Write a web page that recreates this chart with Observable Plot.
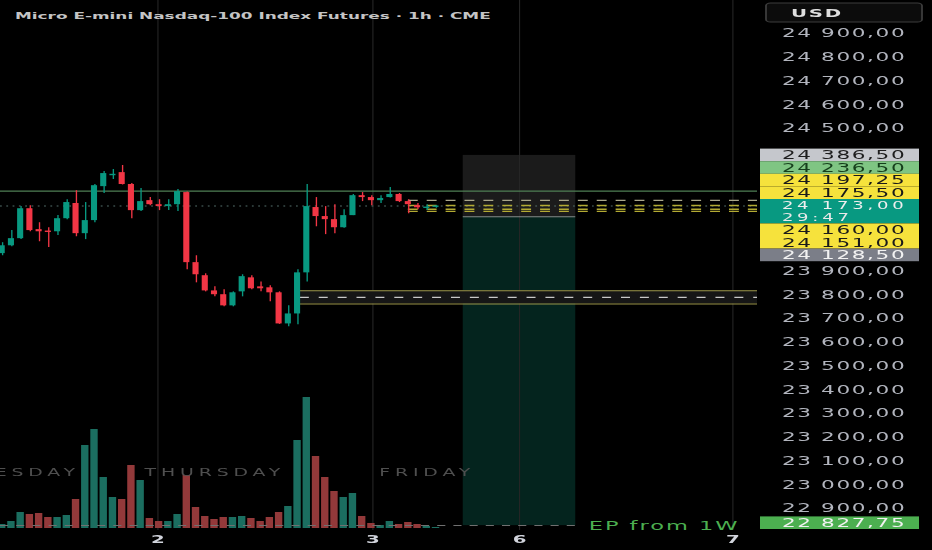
<!DOCTYPE html>
<html><head><meta charset="utf-8">
<script src="https://cdn.jsdelivr.net/npm/d3@7"></script>
<script src="https://cdn.jsdelivr.net/npm/@observablehq/plot@0.6"></script>
<style>
html,body{margin:0;padding:0;background:#000;overflow:hidden;}
#wrap{width:518px;height:550px;transform-origin:0 0;}
</style></head><body><div id="wrap"></div>
<script>
// ---------------- data ----------------
const title = "Micro E-mini Nasdaq-100 Index Futures · 1h · CME";
const currency = "USD";
const opens  = [23973,24006,24036,24162,24074,24068,24065,24120,24184,24057,24112,24255,24302,24314,24264,24154,24196,24179,24171,24179,24230,23935,23880,23816,23800,23753,23812,23871,23833,23829,23808,23677,23719,23892,24167,24129,24116,24082,24133,24217,24209,24196,24209,24222,24192,24175,24164,24168];
const highs  = [24019,24070,24171,24175,24103,24082,24133,24200,24238,24188,24264,24319,24327,24344,24268,24247,24209,24200,24200,24243,24232,23964,23888,23833,23821,23812,23884,23880,23854,23838,23812,23753,23905,24264,24209,24171,24179,24158,24222,24230,24217,24217,24251,24226,24200,24184,24179,24175];
const lows   = [23964,24002,24032,24065,24023,23999,24049,24116,24044,24032,24103,24226,24285,24262,24120,24150,24175,24154,24154,24150,23905,23850,23812,23791,23749,23749,23791,23821,23812,23770,23675,23665,23673,23854,24086,24053,24057,24080,24133,24192,24175,24184,24207,24188,24141,24158,24154,24164];
const closes = [24006,24036,24162,24070,24065,24062,24120,24188,24057,24112,24259,24310,24306,24264,24154,24192,24179,24171,24179,24234,23935,23884,23816,23800,23753,23808,23876,23825,23825,23808,23677,23719,23892,24171,24129,24116,24082,24133,24217,24209,24196,24205,24222,24192,24179,24166,24168,24173];
const volumes = [400,700,1600,1400,1500,1100,1100,1300,2900,8300,9900,5100,3100,2900,6300,4800,1000,700,700,1400,5300,2100,1200,900,1100,1100,1200,1000,700,1100,1600,2200,8800,13100,7200,5100,3700,3100,3500,1200,500,300,700,400,600,400,200,100];
const dayTicks = [16.83, 40.12, 56.01, 79.12];   // bar-index positions of day starts
const dayLabels = ["2", "3", "6", "7"];
const weekdayNames = ["WEDNESDAY", "THURSDAY", "FRIDAY"];
const weekdayPos = [-0.5, 23.0, 46.0];
const priceTicks = [22900,23000,23100,23200,23300,23400,23500,23600,23700,23800,23900,24500,24600,24700,24800,24900];
const resistance = 24236.5;
const lastPrice = 24173;
const countdown = "29:47";
const alertLevels = [24197.25, 24175.5, 24160, 24151];
const alertStart = 44;
const zoneTop = 23817, zoneMid = 23789, zoneBottom = 23761, zoneStart = 32.3;
const posStart = 49.95, posEnd = 62.14, posStop = 24386.5, posEntry = 24128.5, posTarget = 22827.75;
const epLabel = "EP from 1W";

// ---------------- layout ----------------
const W = 518, H = 550, S = 932 / W;
const plotRight = 757 / S;
const mR = W - plotRight, mB = 20;
const xDomain = [-0.184, 81.83];
const yDomain = [22807.2, 25038.7];
const xPx = d3.scaleLinear(xDomain, [0, plotRight]);
const yPx = d3.scaleLinear(yDomain, [H - mB, 0]);
document.getElementById("wrap").style.transform = `scaleX(${S})`;

const fmt = d3.formatLocale({decimal: ",", thousands: " ", grouping: [3], currency: ["", ""]}).format(",.2f");

const candles = opens.map((o, i) => ({i, o, h: highs[i], l: lows[i], c: closes[i], v: volumes[i]}));
const up = d => d.c >= d.o;
const GREEN = "#089981", RED = "#f23645";
const minB = 1.4 / 0.2375;
const bLo = d => { const lo = Math.min(d.o, d.c), hi = Math.max(d.o, d.c); return hi - lo < minB ? (lo + hi) / 2 - minB / 2 : lo; };
const bHi = d => { const lo = Math.min(d.o, d.c), hi = Math.max(d.o, d.c); return hi - lo < minB ? (lo + hi) / 2 + minB / 2 : hi; };
const volBase = 528, volPx = 0.01;

// price labels on the right scale (stacked to avoid overlap)
const styleOf = {
  stop:   {bg: "#c5c7cc", fg: "#1e1e1e"},
  line:   {bg: "#7fc583", fg: "#163f1c"},
  alert:  {bg: "#f6e23c", fg: "#1a1a1a"},
  last:   {bg: "#089981", fg: "#eeeeee"},
  entry:  {bg: "#7b7e88", fg: "#f2f2f2"},
  target: {bg: "#4caf50", fg: "#f2f2f2"}
};
const labels = [
  {p: posStop, kind: "stop"}, {p: resistance, kind: "line"},
  ...alertLevels.map(p => ({p, kind: "alert"})),
  {p: lastPrice, kind: "last"}, {p: posEntry, kind: "entry"}, {p: posTarget, kind: "target"}
].sort((a, b) => b.p - a.p);
const LH = 12.6;
labels.forEach(d => { d.h = d.kind === "last" ? 24.4 : LH; d.t0 = yPx(d.p) - LH / 2; });
const clusters = [];
labels.forEach(d => {
  const c = clusters[clusters.length - 1];
  if (c && d.t0 < c.lastT0 + c.lastH) { d.off = c.h; c.items.push(d); c.h += d.h; c.lastT0 = d.t0; c.lastH = d.h; }
  else { d.off = 0; clusters.push({items: [d], h: d.h, lastT0: d.t0, lastH: d.h}); }
});
let prevBottom = -Infinity;
clusters.forEach(c => {
  let top = d3.mean(c.items, d => d.t0 - d.off);
  top = Math.max(top, prevBottom);
  if (top + c.h > H - mB - 1) top = H - mB - 1 - c.h;
  c.items.forEach(d => d.top = top + d.off);
  prevBottom = top + c.h;
});
const lx1 = xPx.invert(760 / S), lx2 = xPx.invert(919 / S), lxT = xPx.invert(781 / S);

const chart = Plot.plot({
  width: W, height: H,
  marginLeft: 0, marginRight: mR, marginTop: 0, marginBottom: mB,
  x: {domain: xDomain, label: null},
  y: {domain: yDomain, label: null},
  color: {type: "identity"},
  style: {background: "#000", color: "#d1d4dc", fontFamily: "DejaVu Sans", overflow: "visible"},
  marks: [
    // position tool box
    Plot.rect([0], {x1: posStart, x2: posEnd, y1: posEntry, y2: posStop, fill: "#1b1b1b"}),
    Plot.rect([0], {x1: posStart, x2: posEnd, y1: posTarget, y2: posEntry, fill: "#04241e"}),
    Plot.ruleX(dayTicks, {stroke: "#262626", strokeWidth: 0.6}),
    Plot.ruleY([posEntry], {x1: posStart, x2: posEnd, stroke: "#8a8a8a", strokeWidth: 0.9}),
    // zone
    Plot.rect([0], {x1: zoneStart, x2: xDomain[1], y1: zoneBottom, y2: zoneTop, fill: "#161616"}),
    Plot.ruleY([zoneTop, zoneBottom], {x1: zoneStart, x2: xDomain[1], stroke: "#9a9448", strokeWidth: 1}),
    Plot.ruleY([zoneMid], {x1: zoneStart, x2: xDomain[1], stroke: "#c8c8c8", strokeWidth: 1.2, strokeDasharray: "5,5.5"}),
    // volume
    Plot.rect(candles, {x1: d => d.i - 0.4, x2: d => d.i + 0.4, y1: yPx.invert(volBase), y2: d => yPx.invert(volBase - d.v * volPx),
      fill: d => up(d) ? "#1b6e60" : "#93393a"}),
    // EP line
    Plot.ruleY([posTarget], {x1: xDomain[0], x2: posEnd, stroke: "#707070", strokeWidth: 1, strokeDasharray: "4.5,4.5"}),
    Plot.text([epLabel], {x: posEnd, y: posTarget, text: d => d, dx: 7, textAnchor: "start", fill: "#4caf50", fontSize: 12.5}),
    // weekday watermarks
    Plot.text(weekdayNames, {x: (d, i) => weekdayPos[i], text: d => d, frameAnchor: "bottom", dy: -55, fill: "#4f4f4f", fontSize: 10.5}),
    // horizontal lines
    Plot.ruleY([resistance], {stroke: "#4f7f55", strokeWidth: 1.2}),
    Plot.ruleY([lastPrice], {stroke: "#55706c", strokeWidth: 1, strokeDasharray: "1,2.5"}),
    Plot.ruleY(alertLevels, {x1: alertStart, x2: xDomain[1], stroke: (d, i) => i === 0 ? "#aaa68a" : "#b3aa33", strokeWidth: 1.4, strokeDasharray: "5.5,5"}),
    // candles
    Plot.ruleX(candles, {x: "i", y1: "l", y2: "h", stroke: d => up(d) ? GREEN : RED, strokeWidth: 0.75}),
    Plot.rect(candles, {x1: d => d.i - 0.33, x2: d => d.i + 0.33, y1: bLo, y2: bHi, fill: d => up(d) ? GREEN : RED}),
    // right price scale
    Plot.axisY(priceTicks, {anchor: "right", label: null, tickSize: 0, tickPadding: 781 / S - plotRight, tickFormat: fmt, color: "#b2b5be", fontSize: 12}),
    Plot.rect(labels, {x1: lx1, x2: lx2, y1: d => yPx.invert(d.top), y2: d => yPx.invert(d.top + d.h), fill: d => styleOf[d.kind].bg}),
    Plot.text(labels, {x: lxT, y: d => yPx.invert(d.top + (d.kind === "last" ? 6 : LH / 2)), text: d => fmt(d.p), textAnchor: "start", fill: d => styleOf[d.kind].fg, fontSize: d => d.kind === "last" ? 10 : 12}),
    Plot.text(labels.filter(d => d.kind === "last"), {x: lxT, y: d => yPx.invert(d.top + 18.2), text: () => countdown, textAnchor: "start", fill: "#e8e8e8", fontSize: 10}),
    // currency box
    Plot.rect([0], {x1: xPx.invert(766 / S), x2: xPx.invert(922 / S), y1: yPx.invert(3), y2: yPx.invert(22), fill: "#0c0c0c", stroke: "#3c3c3c", rx: 2.5}),
    Plot.text([currency], {x: xPx.invert(790 / S), y: yPx.invert(12.5), text: d => d, textAnchor: "start", fill: "#dedede", fontSize: 11, fontWeight: "bold"}),
    // bottom axis
    Plot.axisX(dayTicks, {anchor: "bottom", label: null, tickSize: 0, tickPadding: 5, tickFormat: d => dayLabels[dayTicks.indexOf(d)], color: "#d1d4dc", fontSize: 11, fontWeight: "bold"}),
    // title
    Plot.text([title], {frameAnchor: "top-left", dx: 7.8, dy: 12, text: d => d, textAnchor: "start", fill: "#c4c4c4", fontSize: 9.4, fontWeight: "bold"})
  ]
});
document.getElementById("wrap").appendChild(chart);
d3.select(chart).selectAll("text").each(function() {
  const t = this.textContent;
  const s = d3.select(this);
  if (/^\d{2} \d{3},\d{2}$/.test(t)) s.attr("letter-spacing", s.attr("font-size") === "10" ? 2.1 : 0.9);
  else if (t === countdown) s.attr("letter-spacing", 2.1);
  else if (t === epLabel) s.attr("letter-spacing", 1.1);
  else if (weekdayNames.includes(t)) s.attr("letter-spacing", 2.7);
  else if (t === currency) s.attr("letter-spacing", 1);
});
</script></body></html>
